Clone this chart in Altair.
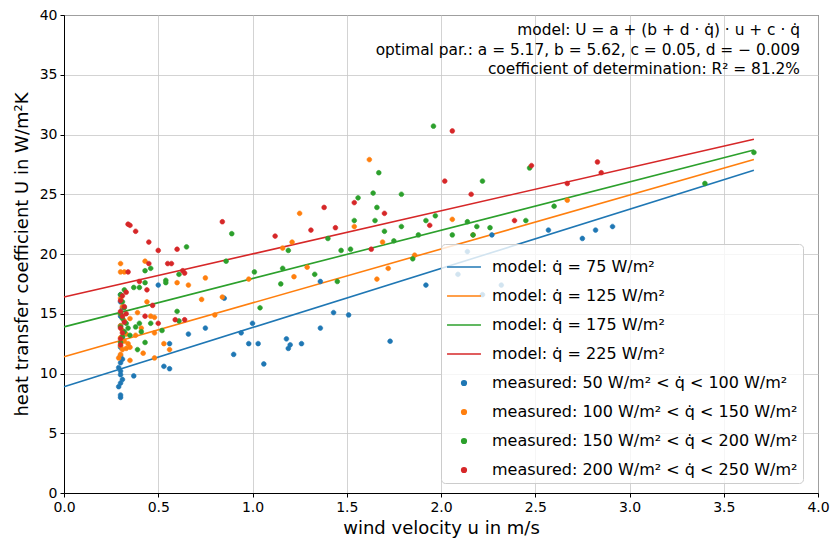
import altair as alt
import pandas as pd

# ---- model lines (end points) ----
line_labels = ["model: q̇ = 75 W/m²", "model: q̇ = 125 W/m²",
               "model: q̇ = 175 W/m²", "model: q̇ = 225 W/m²"]
line_u = [0.0, 3.66]
line_U = [[8.9, 27.0], [11.4, 27.9], [13.9, 28.7], [16.4, 29.6]]

# ---- measured points ----
pt_labels = ["measured: 50 W/m² < q̇ < 100 W/m²",
             "measured: 100 W/m² < q̇ < 150 W/m²",
             "measured: 150 W/m² < q̇ < 200 W/m²",
             "measured: 200 W/m² < q̇ < 250 W/m²"]

u_blue = [0.30, 0.30, 0.29, 0.30, 0.31, 0.30, 0.30, 0.29, 0.30, 0.31, 0.30, 0.30, 0.31, 0.30, 0.30, 0.31, 0.30, 0.30,
          0.37, 0.53, 0.56, 0.56, 0.50, 0.66, 0.75, 0.85, 0.90, 0.94, 0.98, 1.00, 1.03, 1.06, 1.18, 1.19, 1.20, 1.26,
          1.36, 1.36, 1.43, 1.51, 1.73, 1.92, 2.09, 2.14, 2.22, 2.32, 2.27, 2.57, 2.75, 2.82, 2.91]
U_blue = [8.0, 8.2, 8.9, 9.2, 9.5, 9.9, 10.2, 10.5, 10.9, 11.2, 11.5, 12.2, 13.0, 14.0, 14.8, 15.5, 16.0, 16.6,
          9.8, 10.6, 10.4, 12.5, 17.4, 13.3, 13.8, 16.3, 11.6, 13.4, 12.5, 14.2, 12.5, 10.8, 12.9, 12.1, 12.4, 12.5,
          13.8, 17.7, 15.1, 14.9, 12.7, 17.4, 18.3, 20.2, 16.6, 17.4, 21.6, 22.0, 21.3, 22.0, 22.3]

u_orange = [0.30, 0.31, 0.30, 0.32, 0.30, 0.33, 0.31, 0.30, 0.32, 0.30, 0.31, 0.30, 0.33, 0.34, 0.35, 0.30, 0.30, 0.32, 0.29,
            0.35, 0.35, 0.38, 0.39, 0.41, 0.42, 0.44, 0.46, 0.48, 0.48, 0.48, 0.43, 0.53, 0.56, 0.60, 0.66, 0.73, 0.75,
            0.80, 0.84, 0.98, 1.16, 1.21, 1.22, 1.25, 1.29, 1.54, 1.62, 1.66, 1.69, 1.72, 1.86, 2.06, 2.17, 2.67]
U_orange = [11.6, 12.0, 12.3, 12.7, 13.0, 13.3, 13.6, 14.0, 14.4, 15.0, 15.6, 16.3, 12.1, 12.5, 14.6, 18.5, 19.2, 18.5, 11.3,
            11.1, 12.2, 13.2, 15.1, 13.8, 11.7, 16.0, 14.8, 14.7, 13.4, 11.3, 19.4, 12.5, 12.0, 17.6, 17.4, 16.2, 18.0,
            14.9, 16.4, 17.9, 20.5, 21.0, 18.1, 23.4, 18.9, 22.3, 27.9, 17.9, 21.0, 18.8, 19.9, 22.9, 21.6, 24.5]

u_green = [0.30, 0.31, 0.32, 0.30, 0.33, 0.31, 0.30, 0.32, 0.31, 0.34, 0.35, 0.30, 0.32,
           0.37, 0.40, 0.43, 0.43, 0.46, 0.38, 0.39, 0.40, 0.41, 0.43, 0.46, 0.52, 0.54, 0.54, 0.60, 0.61, 0.61, 0.65,
           0.86, 0.89, 1.01, 1.04, 1.15, 1.16, 1.19, 1.33, 1.40, 1.45, 1.47, 1.52, 1.54, 1.56, 1.64, 1.65, 1.66, 1.67,
           1.70, 1.75, 1.79, 1.79, 1.85, 1.88, 1.92, 1.96, 1.97, 2.06, 2.14, 2.17, 2.19, 2.22, 2.26, 2.45, 2.47, 2.60,
           3.40, 3.66]
U_green = [12.6, 13.1, 13.5, 13.9, 14.2, 14.6, 15.0, 15.5, 16.0, 13.8, 13.2, 16.6, 17.0,
           17.2, 17.2, 17.6, 18.6, 18.8, 13.9, 12.0, 14.2, 13.5, 12.6, 14.2, 13.6, 17.8, 17.6, 15.2, 14.4, 18.3, 20.6,
           19.4, 21.7, 18.5, 15.5, 17.5, 18.8, 20.3, 18.3, 21.3, 17.7, 20.3, 20.4, 22.8, 24.7, 25.1, 22.8, 23.9, 26.8,
           21.9, 21.1, 25.0, 22.3, 19.6, 21.6, 22.8, 30.7, 23.2, 21.6, 22.7, 21.6, 22.3, 26.1, 22.2, 22.8, 27.2, 24.0,
           25.9, 28.5]

u_red = [0.30, 0.30, 0.31, 0.30, 0.32, 0.31, 0.30, 0.32, 0.30, 0.31, 0.33, 0.34, 0.33,
         0.34, 0.35, 0.38, 0.40, 0.43, 0.44, 0.45, 0.45, 0.47, 0.50, 0.50, 0.55, 0.57, 0.59, 0.60, 0.63, 0.64, 0.64,
         0.84, 1.12, 1.31, 1.38, 1.44, 1.54, 1.63, 1.70, 1.94, 2.02, 2.06, 2.16, 2.39, 2.48, 2.67, 2.83, 2.85]
U_red = [12.4, 12.9, 13.4, 13.8, 14.3, 14.8, 15.2, 15.6, 16.1, 16.5, 15.0, 18.5, 16.8,
         22.5, 22.4, 21.9, 17.7, 14.8, 17.0, 21.0, 19.2, 15.7, 20.3, 14.2, 19.2, 19.2, 14.5, 20.4, 18.6, 18.4, 14.5,
         22.7, 21.5, 22.0, 23.9, 22.2, 24.3, 20.4, 23.4, 22.4, 26.1, 30.3, 25.0, 22.8, 27.4, 25.9, 27.7, 26.8]

colors = ["#1f77b4", "#ff7f0e", "#2ca02c", "#d62728"]
annotation = ("model: U = a + (b + d · q̇) · u + c · q̇\n"
              "optimal par.: a = 5.17, b = 5.62, c = 0.05, d =  − 0.009\n"
              "coefficient of determination: R² = 81.2%")

# ---- tables ----
line_rows = []
for lab, ys in zip(line_labels, line_U):
    for u, U in zip(line_u, ys):
        line_rows.append({"u": u, "U": U, "label": lab})
lines_df = pd.DataFrame(line_rows)

pt_rows = []
for lab, us, Us in zip(pt_labels, [u_blue, u_orange, u_green, u_red], [U_blue, U_orange, U_green, U_red]):
    for u, U in zip(us, Us):
        pt_rows.append({"u": u, "U": U, "label": lab})
pts_df = pd.DataFrame(pt_rows)

all_labels = line_labels + pt_labels
all_colors = colors + colors

LINE_PATH = "M-1,0H1"
DOT_PATH = "M0.14,0A0.14,0.14 0 1,1 -0.14,0A0.14,0.14 0 1,1 0.14,0Z"
SYM = 1150

color_scale = alt.Scale(domain=all_labels, range=all_colors)
shape_scale = alt.Scale(domain=all_labels, range=[LINE_PATH] * 4 + [DOT_PATH] * 4)

legend = alt.Legend(title=None, orient="none", legendX=377, legendY=229,
                    fillColor="rgba(255,255,255,0.8)", strokeColor="#cccccc",
                    cornerRadius=4, padding=5, labelFontSize=16, labelFont="DejaVu Sans",
                    labelColor="black", labelLimit=400, rowPadding=3, labelOffset=10,
                    symbolSize=SYM, symbolStrokeWidth=1.5, symbolOpacity=1)

x_enc = alt.X("u:Q", scale=alt.Scale(domain=[0, 4], nice=False),
              axis=alt.Axis(values=[0, 0.5, 1, 1.5, 2, 2.5, 3, 3.5, 4], format=".1f",
                            labelFlush=False, title="wind velocity u in m/s"))
y_enc = alt.Y("U:Q", scale=alt.Scale(domain=[0, 40], nice=False),
              axis=alt.Axis(values=list(range(0, 41, 5)), labelFlush=False, titlePadding=8,
                            title="heat transfer coefficient U in W/m²K"))

lines = alt.Chart(lines_df).mark_line(strokeWidth=1.6).encode(
    x=x_enc, y=y_enc,
    stroke=alt.Stroke("label:N", scale=color_scale, legend=legend),
)

points = alt.Chart(pts_df).mark_point(filled=True, opacity=1, strokeWidth=0.6, size=SYM).encode(
    x=x_enc, y=y_enc,
    fill=alt.Fill("label:N", scale=color_scale, legend=legend),
    stroke=alt.Stroke("label:N", scale=color_scale, legend=legend),
    shape=alt.Shape("label:N", scale=shape_scale, legend=legend),
)

text = alt.Chart(pd.DataFrame({"t": [annotation]})).mark_text(
    align="right", baseline="top", lineBreak="\n", fontSize=15.4, lineHeight=19.5,
    font="DejaVu Sans", color="black"
).encode(text="t:N", x=alt.value(736), y=alt.value(8))

chart = alt.layer(lines, points, text).properties(
    width=754, height=478,
    autosize=alt.AutoSizeParams(type="none"),
    padding={"left": 64, "top": 15, "right": 12, "bottom": 46},
).configure_view(stroke="black", strokeWidth=1).configure_axis(
    labelFont="DejaVu Sans", titleFont="DejaVu Sans", labelFontSize=14, titleFontSize=18,
    titleFontWeight="normal", labelColor="black", titleColor="black",
    tickColor="black", domainColor="black", gridColor="#c8c8c8", gridWidth=0.8,
    tickSize=4, labelPadding=3, titlePadding=5
).configure_legend(rowPadding=3)

chart.save("out.html", embed_options={"renderer": "svg", "actions": False})
